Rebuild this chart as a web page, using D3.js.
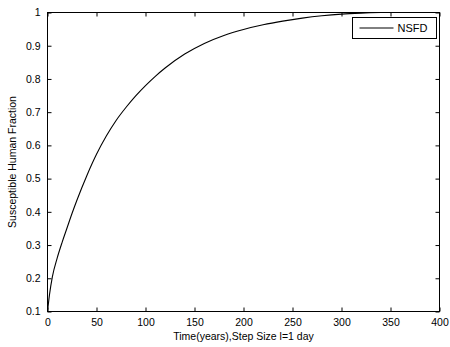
<!DOCTYPE html>
<html>
<head>
<meta charset="utf-8">
<script src="https://cdn.jsdelivr.net/npm/d3@7"></script>
<style>
  body { margin: 0; background: #fff; }
  text { font-family: "Liberation Sans", Arial, sans-serif; fill: #000; }
</style>
</head>
<body>
<div class="vis-chart"></div>
<script>
// values
const timeYears = [0, 2, 5, 10, 15, 20, 25, 30, 40, 50, 60, 70, 80, 90, 100, 110, 120, 140, 160, 180, 200, 220, 240, 260, 280, 300, 320, 340, 360, 380, 400];
const susceptible = [0.1, 0.15, 0.205, 0.262, 0.309, 0.352, 0.395, 0.435, 0.508, 0.573, 0.628, 0.675, 0.714, 0.749, 0.78, 0.808, 0.833, 0.875, 0.907, 0.931, 0.949, 0.963, 0.974, 0.983, 0.99, 0.995, 0.998, 1.0, 1.0, 1.0, 1.0];
const xTicks = [0, 50, 100, 150, 200, 250, 300, 350, 400];
const yTicks = [0.1, 0.2, 0.3, 0.4, 0.5, 0.6, 0.7, 0.8, 0.9, 1];
const seriesName = 'NSFD';

const W = 450, H = 347;
const margin = { top: 12.5, right: 10.5, bottom: 35.5, left: 47.5 };
const width = W - margin.left - margin.right;
const height = H - margin.top - margin.bottom;

const svg = d3.select('.vis-chart')
    .append('svg')
    .attr('width', W)
    .attr('height', H);

const g = svg.append('g')
    .attr('transform', 'translate(' + margin.left + ',' + margin.top + ')');

const x = d3.scaleLinear().domain([0, 400]).range([0, width]);
const y = d3.scaleLinear().domain([0.1, 1]).range([height, 0]);

const tickLen = 4;
const fmt = d => String(d);

// bottom axis, ticks pointing up
g.append('g')
    .attr('transform', 'translate(0,' + height + ')')
    .call(d3.axisBottom(x).tickValues(xTicks).tickFormat(fmt).tickSizeInner(-tickLen).tickSizeOuter(0).tickPadding(7));

// top ticks
g.append('g')
    .call(d3.axisTop(x).tickValues(xTicks).tickFormat('').tickSizeInner(-tickLen).tickSizeOuter(0));

// left axis, ticks pointing right
g.append('g')
    .call(d3.axisLeft(y).tickValues(yTicks).tickFormat(fmt).tickSizeInner(-tickLen).tickSizeOuter(0).tickPadding(7));

// right ticks
g.append('g')
    .attr('transform', 'translate(' + width + ',0)')
    .call(d3.axisRight(y).tickValues(yTicks).tickFormat('').tickSizeInner(-tickLen).tickSizeOuter(0));

g.selectAll('.domain').remove();
g.selectAll('.tick line').attr('stroke', '#000');
g.selectAll('.tick text')
    .style('font-size', '10.5px')
    .style('font-family', '"Liberation Sans", Arial, sans-serif');

// box
g.append('rect')
    .attr('x', 0).attr('y', 0)
    .attr('width', width).attr('height', height)
    .attr('fill', 'none')
    .attr('stroke', '#000')
    .attr('stroke-width', 1);

// curve
const line = d3.line()
    .x((d, i) => x(timeYears[i]))
    .y(d => y(d))
    .curve(d3.curveMonotoneX);

g.append('path')
    .datum(susceptible)
    .attr('d', line)
    .attr('fill', 'none')
    .attr('stroke', '#000')
    .attr('stroke-width', 1.1);

// legend
const legend = g.append('g')
    .attr('transform', 'translate(' + (width - 87) + ',5)');

legend.append('rect')
    .attr('width', 84)
    .attr('height', 21)
    .attr('fill', '#fff')
    .attr('stroke', '#000');

legend.append('line')
    .attr('x1', 7).attr('x2', 41)
    .attr('y1', 10.5).attr('y2', 10.5)
    .attr('stroke', '#000');

legend.append('text')
    .attr('x', 45)
    .attr('y', 14.5)
    .style('font-size', '11px')
    .text(seriesName);

// axis labels
svg.append('text')
    .attr('x', margin.left + width / 2)
    .attr('y', 340)
    .attr('text-anchor', 'middle')
    .style('font-size', '10.5px')
    .text('Time(years),Step Size l=1 day');

svg.append('text')
    .attr('transform', 'translate(16,' + (margin.top + height / 2) + ') rotate(-90)')
    .attr('text-anchor', 'middle')
    .style('font-size', '10.5px')
    .text('Susceptible Human Fraction');
</script>
</body>
</html>
